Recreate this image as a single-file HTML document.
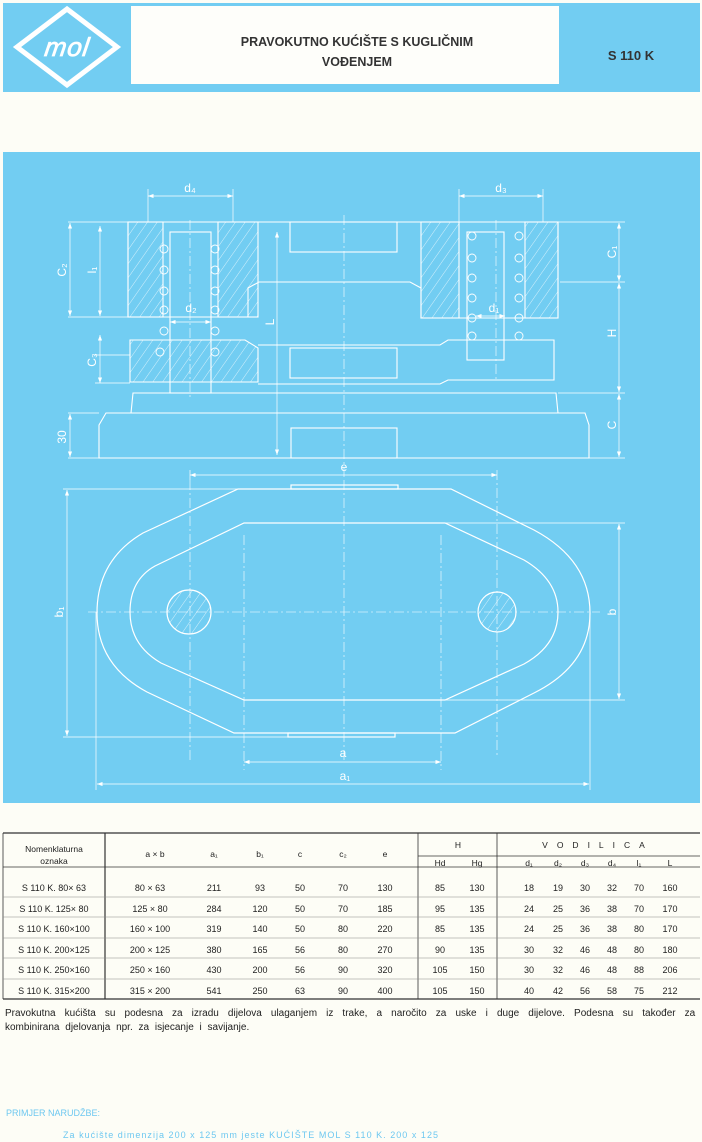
<!DOCTYPE html>
<html><head><meta charset="utf-8">
<style>
html,body{margin:0;padding:0;background:#fdfdf6;}
body{width:702px;height:1142px;overflow:hidden;position:relative;font-family:"Liberation Sans",sans-serif;}
svg{position:absolute;left:0;top:0;}
</style></head>
<body>
<svg width="702" height="1142" viewBox="0 0 702 1142" xmlns="http://www.w3.org/2000/svg" font-family="Liberation Sans, DejaVu Sans, sans-serif">
<rect x="3" y="3" width="697" height="89" fill="#72cdf2"/>
<rect x="131" y="6" width="428" height="78" fill="#fefefa"/>
<polygon points="67,9 117,47 67,85 17,47" fill="none" stroke="#fff" stroke-width="5"/>
<text x="67" y="56" font-size="26" font-style="italic" fill="#fff" text-anchor="middle" transform="skewX(-8) translate(7,0)" letter-spacing="1" stroke="#fff" stroke-width="0.8">mol</text>
<text x="357" y="46" font-size="12.5" font-weight="bold" fill="#333" text-anchor="middle">PRAVOKUTNO KUĆIŠTE S KUGLIČNIM</text>
<text x="357" y="66" font-size="12.5" font-weight="bold" fill="#333" text-anchor="middle">VOĐENJEM</text>
<text x="631" y="60" font-size="13" font-weight="bold" fill="#333" text-anchor="middle">S 110 K</text>

<rect x="3" y="152" width="697" height="651" fill="#72cdf2"/>
<defs>
<pattern id="h" width="8" height="8" patternUnits="userSpaceOnUse" patternTransform="rotate(35)">
<line x1="0" y1="0" x2="0" y2="8" stroke="#fff" stroke-width="0.7"/></pattern>
<marker id="a" markerWidth="8" markerHeight="6" refX="8" refY="3" orient="auto-start-reverse"><path d="M0,0 L8,3 L0,6z" fill="#fff"/></marker>
</defs>
<g stroke="#fff" fill="none" stroke-width="1.1">
<path d="M128,222 L558,222 L558,318 L421,318 L421,288 L410,282 L259,282 L248,288 L248,317 L128,317 Z"/>
<rect x="290" y="222" width="107" height="30"/>
<rect x="128" y="222" width="35" height="95" fill="url(#h)"/>
<rect x="218" y="222" width="40" height="95" fill="url(#h)"/>
<rect x="421" y="222" width="38" height="96" fill="url(#h)"/>
<rect x="525" y="222" width="33" height="96" fill="url(#h)"/>
<rect x="170" y="232" width="41" height="161"/>
<rect x="467" y="232" width="37" height="128"/>
<g stroke-width="0.9">
<circle cx="164" cy="249" r="4"/><circle cx="164" cy="270" r="4"/><circle cx="164" cy="291" r="4"/><circle cx="164" cy="310" r="4"/><circle cx="164" cy="331" r="4"/>
<circle cx="215" cy="249" r="4"/><circle cx="215" cy="270" r="4"/><circle cx="215" cy="291" r="4"/><circle cx="215" cy="310" r="4"/><circle cx="215" cy="331" r="4"/><circle cx="215" cy="352" r="4"/>
<circle cx="160" cy="352" r="4"/>
<circle cx="472" cy="236" r="4"/><circle cx="472" cy="258" r="4"/><circle cx="472" cy="278" r="4"/><circle cx="472" cy="298" r="4"/><circle cx="472" cy="318" r="4"/><circle cx="472" cy="336" r="4"/>
<circle cx="519" cy="236" r="4"/><circle cx="519" cy="258" r="4"/><circle cx="519" cy="278" r="4"/><circle cx="519" cy="298" r="4"/><circle cx="519" cy="318" r="4"/><circle cx="519" cy="336" r="4"/>
</g>
<path d="M130,340 L245,340 L258,348 L258,382 L130,382 Z" fill="url(#h)"/>
<path d="M258,345 L440,345 L448,340 L554,340 L554,380 L448,380 L440,384 L258,384"/>
<rect x="290" y="348" width="107" height="30"/>
<path d="M131,413 L133,393 L556,393 L558,413"/>
<path d="M99,458 L99,425 L106,413 L585,413 L589,425 L589,458 Z"/>
<rect x="291" y="428" width="106" height="30"/>
</g>
<g stroke="#fff" stroke-width="0.6" stroke-dasharray="10,3,2,3" fill="none">
<line x1="344" y1="215" x2="344" y2="480"/>
<line x1="190" y1="220" x2="190" y2="400"/>
<line x1="496" y1="220" x2="496" y2="380"/>
<line x1="344" y1="480" x2="344" y2="760"/>
<line x1="88" y1="612" x2="600" y2="612"/>
<line x1="190" y1="480" x2="190" y2="760"/>
<line x1="497" y1="470" x2="497" y2="755"/>
<line x1="244" y1="535" x2="244" y2="770"/>
<line x1="441" y1="535" x2="441" y2="770"/>
</g>
<g stroke="#fff" stroke-width="0.7" fill="none">
<line x1="148" y1="189" x2="148" y2="222"/><line x1="233" y1="189" x2="233" y2="222"/>
<line x1="148" y1="196" x2="233" y2="196" marker-start="url(#a)" marker-end="url(#a)"/>
<line x1="459" y1="189" x2="459" y2="222"/><line x1="543" y1="189" x2="543" y2="222"/>
<line x1="459" y1="196" x2="543" y2="196" marker-start="url(#a)" marker-end="url(#a)"/>
<line x1="170" y1="322" x2="211" y2="322" marker-start="url(#a)" marker-end="url(#a)"/>
<line x1="476" y1="316" x2="505" y2="316" marker-start="url(#a)" marker-end="url(#a)"/>
<line x1="68" y1="222" x2="128" y2="222"/><line x1="68" y1="317" x2="128" y2="317"/>
<line x1="70" y1="223" x2="70" y2="316" marker-start="url(#a)" marker-end="url(#a)"/>
<line x1="100" y1="226" x2="100" y2="316" marker-start="url(#a)" marker-end="url(#a)"/>
<line x1="100" y1="335" x2="100" y2="383" marker-start="url(#a)" marker-end="url(#a)"/>
<line x1="95" y1="355" x2="130" y2="355"/><line x1="95" y1="383" x2="130" y2="383"/>
<line x1="68" y1="413" x2="99" y2="413"/><line x1="68" y1="458" x2="99" y2="458"/>
<line x1="70" y1="414" x2="70" y2="457" marker-start="url(#a)" marker-end="url(#a)"/>
<line x1="277" y1="232" x2="277" y2="455" marker-start="url(#a)" marker-end="url(#a)"/>
<line x1="558" y1="222" x2="625" y2="222"/><line x1="560" y1="282" x2="625" y2="282"/>
<line x1="558" y1="393" x2="625" y2="393"/><line x1="589" y1="458" x2="625" y2="458"/>
<line x1="619" y1="223" x2="619" y2="281" marker-start="url(#a)" marker-end="url(#a)"/>
<line x1="619" y1="283" x2="619" y2="392" marker-start="url(#a)" marker-end="url(#a)"/>
<line x1="619" y1="394" x2="619" y2="457" marker-start="url(#a)" marker-end="url(#a)"/>
<line x1="190" y1="470" x2="190" y2="480"/>
<line x1="190" y1="475" x2="497" y2="475" marker-start="url(#a)" marker-end="url(#a)"/>
<line x1="244" y1="762" x2="441" y2="762" marker-start="url(#a)" marker-end="url(#a)"/>
<line x1="96" y1="612" x2="96" y2="790"/><line x1="590" y1="612" x2="590" y2="790"/>
<line x1="97" y1="784" x2="589" y2="784" marker-start="url(#a)" marker-end="url(#a)"/>
<line x1="63" y1="489" x2="300" y2="489"/><line x1="63" y1="737" x2="300" y2="737"/>
<line x1="67" y1="490" x2="67" y2="736" marker-start="url(#a)" marker-end="url(#a)"/>
<line x1="445" y1="523" x2="625" y2="523"/><line x1="445" y1="700" x2="625" y2="700"/>
<line x1="619" y1="524" x2="619" y2="699" marker-start="url(#a)" marker-end="url(#a)"/>
</g>
<g stroke="#fff" stroke-width="1.2" fill="none">
<path d="M238,489 L451,489 L534,530 Q590,560 590,613 Q590,665 534,693 L455,733 L234,733 L147,692 Q97,665 97,613 Q97,560 143,533 Z"/>
<path d="M244,523 L445,523 L524,560 Q558,580 558,612 Q558,645 524,664 L445,700 L244,700 L161,663 Q130,645 130,612 Q130,580 155,566 Z"/>
<rect x="291" y="485" width="107" height="4"/>
<rect x="288" y="733" width="107" height="4"/>
<ellipse cx="189" cy="612" rx="22" ry="22" fill="url(#h)"/>
<ellipse cx="497" cy="612" rx="19" ry="20" fill="url(#h)"/>
</g>
<g fill="#fff" font-size="12" text-anchor="middle">
<text x="190" y="192">d₄</text><text x="501" y="192">d₃</text>
<text x="191" y="312">d₂</text><text x="494" y="312">d₁</text>
<text x="344" y="471">e</text><text x="343" y="757">a</text><text x="345" y="780">a₁</text>
<text transform="translate(66,270) rotate(-90)">C₂</text>
<text transform="translate(96,270) rotate(-90)">l₁</text>
<text transform="translate(96,360) rotate(-90)">C₃</text>
<text transform="translate(66,437) rotate(-90)">30</text>
<text transform="translate(274,322) rotate(-90)">L</text>
<text transform="translate(616,252) rotate(-90)">C₁</text>
<text transform="translate(616,333) rotate(-90)">H</text>
<text transform="translate(616,425) rotate(-90)">C</text>
<text transform="translate(63,612) rotate(-90)">b₁</text>
<text transform="translate(616,612) rotate(-90)">b</text>
</g>

<g stroke="#333" stroke-width="0.8" fill="none">
<line x1="3" y1="833" x2="700" y2="833" stroke-width="1.2"/>
<line x1="3" y1="999" x2="700" y2="999" stroke-width="1.2"/>
<line x1="3" y1="833" x2="3" y2="999"/>
<line x1="105" y1="833" x2="105" y2="999" stroke-width="1.2"/>
<line x1="418" y1="833" x2="418" y2="999"/>
<line x1="497" y1="833" x2="497" y2="999"/>
<line x1="3" y1="867" x2="418" y2="867"/>
<line x1="418" y1="856" x2="700" y2="856"/>
<line x1="418" y1="867" x2="700" y2="867"/>
<g stroke-width="0.5" stroke="#888">
<line x1="3" y1="897" x2="700" y2="897"/><line x1="3" y1="917" x2="700" y2="917"/>
<line x1="3" y1="938" x2="700" y2="938"/><line x1="3" y1="958" x2="700" y2="958"/>
<line x1="3" y1="979" x2="700" y2="979"/>
</g>
</g>
<g font-size="8.5" fill="#222" text-anchor="middle">
<text x="54" y="852">Nomenklaturna</text><text x="54" y="864">oznaka</text>
<text x="155" y="857">a × b</text><text x="214" y="857">a₁</text><text x="260" y="857">b₁</text>
<text x="300" y="857">c</text><text x="343" y="857">c₂</text><text x="385" y="857">e</text>
<text x="458" y="848">H</text>
<text x="598" y="848" letter-spacing="9">VODILICA</text>
<text x="440" y="866">Hd</text><text x="477" y="866">Hg</text>
<text x="529" y="866">d₁</text><text x="558" y="866">d₂</text><text x="585" y="866">d₃</text><text x="612" y="866">d₄</text><text x="639" y="866">l₁</text><text x="670" y="866">L</text>
</g>
<g font-size="9" fill="#222" text-anchor="middle">
<g transform="translate(0,891)"><text x="54">S 110 K.  80× 63</text><text x="150">80 × 63</text><text x="214">211</text><text x="260">93</text><text x="300">50</text><text x="343">70</text><text x="385">130</text><text x="440">85</text><text x="477">130</text><text x="529">18</text><text x="558">19</text><text x="585">30</text><text x="612">32</text><text x="639">70</text><text x="670">160</text></g>
<g transform="translate(0,912)"><text x="54">S 110 K. 125× 80</text><text x="150">125 × 80</text><text x="214">284</text><text x="260">120</text><text x="300">50</text><text x="343">70</text><text x="385">185</text><text x="440">95</text><text x="477">135</text><text x="529">24</text><text x="558">25</text><text x="585">36</text><text x="612">38</text><text x="639">70</text><text x="670">170</text></g>
<g transform="translate(0,932)"><text x="54">S 110 K. 160×100</text><text x="150">160 × 100</text><text x="214">319</text><text x="260">140</text><text x="300">50</text><text x="343">80</text><text x="385">220</text><text x="440">85</text><text x="477">135</text><text x="529">24</text><text x="558">25</text><text x="585">36</text><text x="612">38</text><text x="639">80</text><text x="670">170</text></g>
<g transform="translate(0,953)"><text x="54">S 110 K. 200×125</text><text x="150">200 × 125</text><text x="214">380</text><text x="260">165</text><text x="300">56</text><text x="343">80</text><text x="385">270</text><text x="440">90</text><text x="477">135</text><text x="529">30</text><text x="558">32</text><text x="585">46</text><text x="612">48</text><text x="639">80</text><text x="670">180</text></g>
<g transform="translate(0,973)"><text x="54">S 110 K. 250×160</text><text x="150">250 × 160</text><text x="214">430</text><text x="260">200</text><text x="300">56</text><text x="343">90</text><text x="385">320</text><text x="440">105</text><text x="477">150</text><text x="529">30</text><text x="558">32</text><text x="585">46</text><text x="612">48</text><text x="639">88</text><text x="670">206</text></g>
<g transform="translate(0,994)"><text x="54">S 110 K. 315×200</text><text x="150">315 × 200</text><text x="214">541</text><text x="260">250</text><text x="300">63</text><text x="343">90</text><text x="385">400</text><text x="440">105</text><text x="477">150</text><text x="529">40</text><text x="558">42</text><text x="585">56</text><text x="612">58</text><text x="639">75</text><text x="670">212</text></g>
</g>
<g font-size="10" fill="#222">
<text x="5" y="1016" word-spacing="6.3">Pravokutna kućišta su podesna za izradu dijelova ulaganjem iz trake, a naročito za uske i duge dijelove. Podesna su također za</text>
<text x="5" y="1030" word-spacing="3">kombinirana djelovanja npr. za isjecanje i savijanje.</text>
</g>
<text x="6" y="1116" font-size="9" fill="#6ec8f0">PRIMJER NARUDŽBE:</text>
<text x="63" y="1138" font-size="9" fill="#6ec8f0" textLength="375" lengthAdjust="spacing">Za kućište dimenzija 200 x 125 mm jeste KUĆIŠTE MOL S 110 K. 200 x 125</text>
</svg>
</body></html>
